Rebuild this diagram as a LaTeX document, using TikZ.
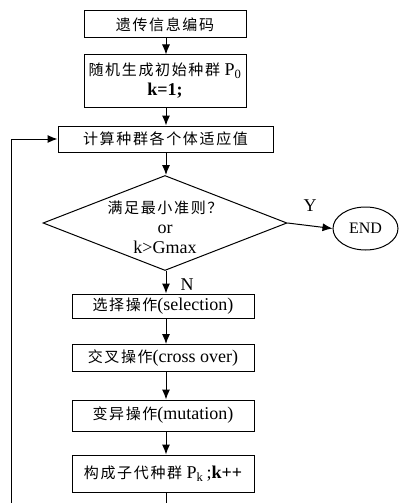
\documentclass[tikz,border=0pt]{standalone}
\usepackage{fontspec}
\setmainfont{Liberation Serif}
\newfontfamily\cjk[LetterSpace=11]{Noto Sans CJK SC}
\usetikzlibrary{positioning}
\usetikzlibrary{shapes.geometric}
\usetikzlibrary{arrows.meta}
\tikzset{>={Latex[length=10pt,width=8pt]}}
\tikzset{blk/.style={draw, line width=1pt, inner sep=0pt, align=center, font=\fontsize{18}{20}\selectfont}}
\tikzset{dec/.style={draw, diamond, line width=1pt, inner sep=0pt}}
\tikzset{term/.style={draw, ellipse, line width=1pt, inner sep=0pt, font=\fontsize{16}{20}\selectfont}}
\tikzset{ed/.style={align=center, font=\fontsize{18}{20}\selectfont}}
\newcommand{\zh}[1]{{\cjk\fontsize{15}{20}\selectfont #1}}

\begin{document}
\begin{tikzpicture}[x=1pt,y=-1pt]
\clip (0,0) rectangle (405,503);
\coordinate (ax) at (166,0);

\node[blk, minimum width=162pt, minimum height=27pt] (code) at (165,24.5) {\zh{遗传信息编码}};
\node[blk, minimum width=162pt, minimum height=52pt] (init) at (165,81) {\zh{随机生成初始种群} P\textsubscript{0}\\ \textbf{k=1;}};
\node[blk, minimum width=215pt, minimum height=26pt] (fit) at (165.5,139) {\zh{计算种群各个体适应值}};
\node[dec, minimum width=244pt, minimum height=95pt] (cond) at (165,223) {};
\node[ed] (condtxt) at (165,227) {\zh{满足最小准则？}\\ or\\ k>Gmax};
\node[term, minimum width=65pt, minimum height=43pt] (end) at (365.5,228.5) {END};
\node[blk, minimum width=182pt, minimum height=24pt] (sel) at (163,306) {\zh{选择操作}(selection)};
\node[blk, minimum width=182pt, minimum height=27pt] (cross) at (163,358) {\zh{交叉操作}(cross over)};
\node[blk, minimum width=182pt, minimum height=31pt] (mut) at (163,415.5) {\zh{变异操作}(mutation)};
\node[blk, minimum width=182pt, minimum height=37pt] (pk) at (163,473.5) {\zh{构成子代种群} P\textsubscript{k}\,;\textbf{k++}};

\node[ed] (y) at (310,206) {Y};
\node[ed] (n) at (187,285) {N};

\coordinate (lp) at (11,520);

\draw[->, line width=1pt] (code.south -| ax) -- (init.north -| ax);
\draw[->, line width=1pt] (init.south -| ax) -- (fit.north -| ax);
\draw[->, line width=1pt] (fit.south -| ax) -- (cond.north -| ax);
\draw[->, line width=1pt] (cond.east) -- (end.west);
\draw[->, line width=1pt] (cond.south -| ax) -- (sel.north -| ax);
\draw[->, line width=1pt] (sel.south -| ax) -- (cross.north -| ax);
\draw[->, line width=1pt] (cross.south -| ax) -- (mut.north -| ax);
\draw[->, line width=1pt] (mut.south -| ax) -- (pk.north -| ax);
\draw[->, line width=1pt] (pk.south -| ax) |- (lp) |- (fit.west);
\end{tikzpicture}
\end{document}
